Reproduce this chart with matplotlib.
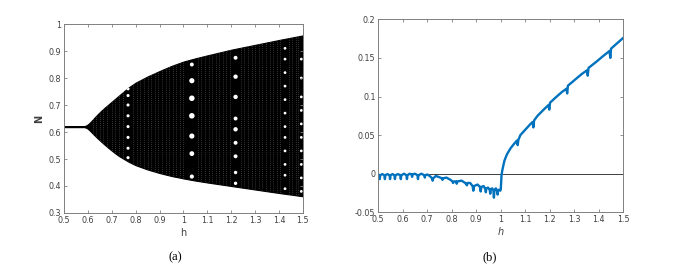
import matplotlib
matplotlib.use("Agg")
import matplotlib.pyplot as plt

# (a) bifurcation diagram: envelope of N versus h
h_env = [0.50, 0.585, 0.595, 0.605, 0.615, 0.625, 0.64, 0.655, 0.67, 0.69, 0.71, 0.73,
         0.77, 0.80, 0.85, 0.90, 0.95, 1.00, 1.05, 1.10, 1.20, 1.30, 1.40, 1.50]
n_upper = [0.622, 0.622, 0.625, 0.632, 0.641, 0.651, 0.665, 0.678, 0.690, 0.705, 0.720, 0.735,
           0.765, 0.783, 0.806, 0.826, 0.845, 0.861, 0.873, 0.884, 0.905, 0.923, 0.941, 0.958]
n_lower = [0.618, 0.618, 0.615, 0.608, 0.599, 0.590, 0.577, 0.565, 0.553, 0.538, 0.524, 0.511,
           0.490, 0.477, 0.461, 0.448, 0.437, 0.428, 0.420, 0.413, 0.400, 0.387, 0.374, 0.362]

# periodic windows (white holes) in the chaotic band
win_h = ([0.768] * 8 + [1.035] * 7 + [1.218] * 9 + [1.425] * 12 + [1.493] * 10)
win_n = ([0.505, 0.54, 0.58, 0.62, 0.66, 0.70, 0.735, 0.76] +
         [0.435, 0.52, 0.585, 0.66, 0.725, 0.79, 0.85] +
         [0.41, 0.45, 0.51, 0.56, 0.61, 0.65, 0.73, 0.805, 0.875] +
         [0.39, 0.44, 0.48, 0.53, 0.58, 0.62, 0.67, 0.72, 0.77, 0.82, 0.87, 0.91] +
         [0.38, 0.43, 0.48, 0.53, 0.58, 0.63, 0.68, 0.73, 0.80, 0.87])
win_size = ([5] * 8 + [9, 12, 14, 16, 16, 14, 8] + [6, 6, 8, 8, 10, 8, 10, 10, 8] +
            [4] * 12 + [4] * 10)

# faint vertical stripes of the scattered orbit points
stripe_h = [0.62, 0.635, 0.65, 0.665, 0.68, 0.70, 0.715, 0.73, 0.745, 0.79, 0.805, 0.82,
            0.835, 0.85, 0.865, 0.88, 0.895, 0.91, 0.925, 0.94, 0.955, 0.97, 0.985, 1.00,
            1.06, 1.075, 1.09, 1.105, 1.12, 1.135, 1.15, 1.165, 1.18, 1.195, 1.24, 1.255,
            1.27, 1.285, 1.30, 1.315, 1.33, 1.345, 1.36, 1.375, 1.39, 1.405, 1.44, 1.455,
            1.47, 1.48]

# (b) Lyapunov exponent versus h
h_lyap = [0.500, 0.504, 0.506, 0.508, 0.516, 0.525, 0.527, 0.529, 0.537, 0.546,
          0.548, 0.550, 0.558, 0.566, 0.568, 0.570, 0.580, 0.590, 0.592, 0.594,
          0.605, 0.615, 0.617, 0.619, 0.628, 0.636, 0.638, 0.640, 0.650, 0.660,
          0.662, 0.664, 0.676, 0.688, 0.690, 0.692, 0.700, 0.710, 0.720, 0.722,
          0.724, 0.735, 0.745, 0.760, 0.762, 0.764, 0.778, 0.795, 0.803, 0.805,
          0.810, 0.818, 0.820, 0.823, 0.840, 0.855, 0.862, 0.864, 0.875, 0.885,
          0.888, 0.891, 0.905, 0.915, 0.918, 0.921, 0.930, 0.937, 0.939, 0.941,
          0.948, 0.955, 0.957, 0.959, 0.965, 0.970, 0.972, 0.974, 0.980, 0.985,
          0.987, 0.989, 0.995, 0.998, 1.000, 1.003, 1.006, 1.010, 1.015, 1.025,
          1.040, 1.055, 1.066, 1.069, 1.072, 1.080, 1.100, 1.120, 1.130, 1.133,
          1.136, 1.150, 1.175, 1.195, 1.198, 1.201, 1.225, 1.250, 1.268, 1.271,
          1.274, 1.300, 1.330, 1.352, 1.355, 1.358, 1.390, 1.420, 1.444, 1.447,
          1.450, 1.475, 1.500]
lyap = [-0.001, -0.002, -0.007, -0.002, -0.0005, -0.002, -0.007, -0.002, -0.0005, -0.002,
        -0.007, -0.002, -0.0005, -0.002, -0.007, -0.002, -0.0005, -0.002, -0.007, -0.002,
        0.0, -0.002, -0.007, -0.002, 0.0, -0.001, -0.004, -0.001, 0.0, -0.002,
        -0.007, -0.002, 0.0, -0.002, -0.005, -0.002, -0.001, -0.003, -0.006, -0.009,
        -0.006, -0.003, -0.004, -0.006, -0.008, -0.006, -0.005, -0.008, -0.010, -0.012,
        -0.010, -0.010, -0.013, -0.010, -0.009, -0.012, -0.015, -0.012, -0.012, -0.016,
        -0.022, -0.016, -0.014, -0.017, -0.023, -0.017, -0.016, -0.020, -0.024, -0.019,
        -0.018, -0.021, -0.026, -0.020, -0.019, -0.022, -0.031, -0.021, -0.019, -0.023,
        -0.027, -0.021, -0.021, -0.022, -0.020, -0.002, 0.004, 0.010, 0.017, 0.025,
        0.033, 0.039, 0.043, 0.037, 0.044, 0.050, 0.057, 0.064, 0.067, 0.060,
        0.069, 0.075, 0.083, 0.089, 0.083, 0.092, 0.099, 0.106, 0.110, 0.104,
        0.114, 0.121, 0.129, 0.134, 0.127, 0.137, 0.145, 0.153, 0.159, 0.150,
        0.162, 0.169, 0.176]

axis_grey = '#808080'
text_grey = '#404040'


def style_axes(ax):
    for s in ax.spines.values():
        s.set_color(axis_grey)
        s.set_linewidth(0.7)
    ax.tick_params(direction='in', top=True, right=True, length=2.5, width=0.6,
                   color=axis_grey, labelsize=5.8, labelcolor=text_grey, pad=2)


fig = plt.figure(figsize=(7, 2.73), dpi=100)

# ---- panel (a)
ax1 = fig.add_axes([0.0914, 0.2198, 0.3414, 0.6922])
band = ax1.fill_between(h_env, n_lower, n_upper, color='black', lw=0.8, edgecolor='black')
clip = band.get_paths()[0]
for h in stripe_h:
    ln, = ax1.plot([h, h], [0.3, 1.0], color='white', lw=0.5, alpha=0.4,
                   linestyle=(0, (1, 2)))
    ln.set_clip_path(clip, ax1.transData)
pts = ax1.scatter(win_h, win_n, s=win_size, color='white', marker='o', lw=0)
pts.set_clip_path(clip, ax1.transData)
ax1.set_xlim(0.5, 1.5)
ax1.set_ylim(0.3, 1.0)
ax1.set_xticks([0.5, 0.6, 0.7, 0.8, 0.9, 1.0, 1.1, 1.2, 1.3, 1.4, 1.5])
ax1.set_xticklabels(['0.5', '0.6', '0.7', '0.8', '0.9', '1', '1.1', '1.2', '1.3', '1.4', '1.5'])
ax1.set_yticks([0.3, 0.4, 0.5, 0.6, 0.7, 0.8, 0.9, 1.0])
ax1.set_yticklabels(['0.3', '0.4', '0.5', '0.6', '0.7', '0.8', '0.9', '1'])
ax1.set_xlabel('h', fontsize=7, color=text_grey, labelpad=2)
ax1.set_ylabel('N', fontsize=7, color=text_grey, labelpad=3, fontweight='bold')
style_axes(ax1)

# ---- panel (b)
ax2 = fig.add_axes([0.5404, 0.2223, 0.35, 0.707])
ax2.axhline(0, color='#404040', lw=0.7)
ax2.plot(h_lyap, lyap, color='#0072BD', lw=1.7)
ax2.set_xlim(0.5, 1.5)
ax2.set_ylim(-0.05, 0.2)
ax2.set_xticks([0.5, 0.6, 0.7, 0.8, 0.9, 1.0, 1.1, 1.2, 1.3, 1.4, 1.5])
ax2.set_xticklabels(['0.5', '0.6', '0.7', '0.8', '0.9', '1', '1.1', '1.2', '1.3', '1.4', '1.5'])
ax2.set_yticks([-0.05, 0, 0.05, 0.1, 0.15, 0.2])
ax2.set_yticklabels(['-0.05', '0', '0.05', '0.1', '0.15', '0.2'])
ax2.set_xlabel('h', fontsize=7, color=text_grey, labelpad=2, fontstyle='italic')
style_axes(ax2)

fig.text(0.25, 0.048, '(a)', fontsize=9, family='Liberation Serif', ha='center')
fig.text(0.70, 0.048, '(b)', fontsize=9, family='Liberation Serif', ha='center')

fig.savefig('out.png', dpi=100)
